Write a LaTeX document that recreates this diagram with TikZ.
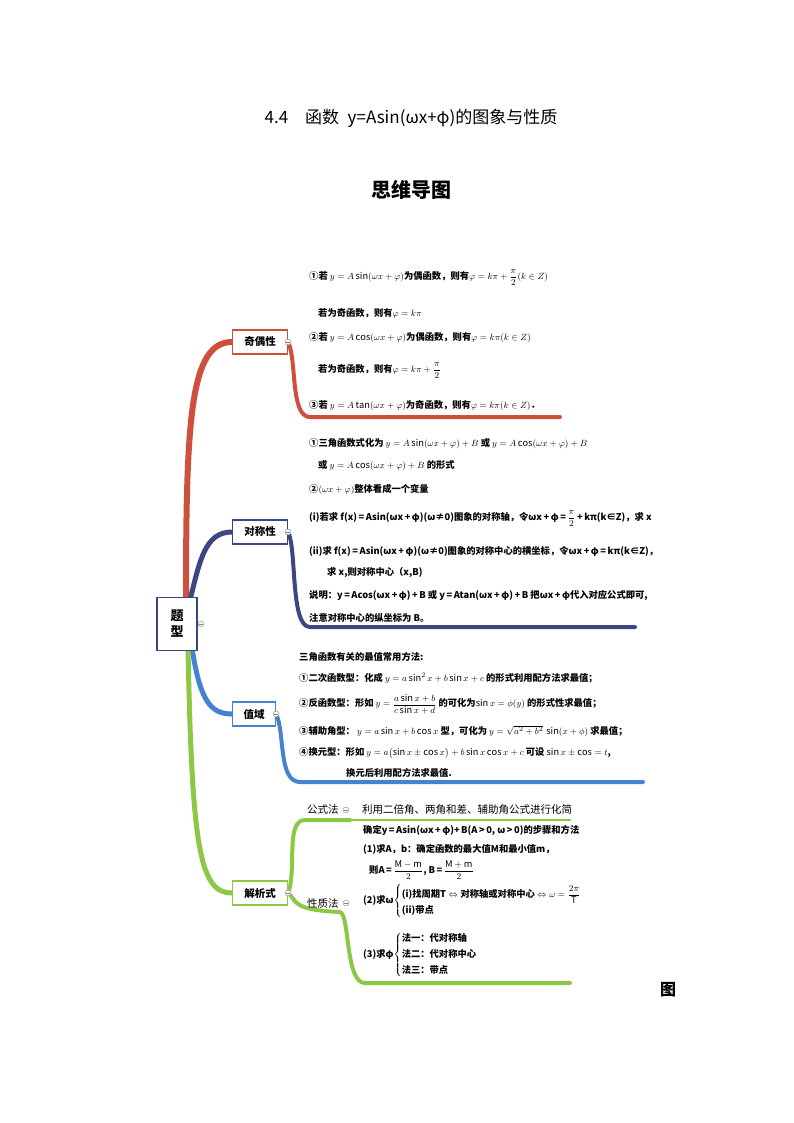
\documentclass[tikz,border=0pt]{standalone}
\usepackage{amsmath}
\usepackage{fontspec}
\setmainfont{Noto Sans CJK SC}
\begin{document}
\begin{tikzpicture}[x=1pt,y=-1pt,
  lbl/.style={draw,line width=1.2pt,fill=white,font=\fontsize{10.5}{12}\selectfont\bfseries,minimum height=24pt,inner sep=3pt},
  tx/.style={anchor=west,font=\fontsize{9.3}{11}\selectfont\bfseries,inner sep=0pt},
  tg/.style={circle,draw=gray,fill=white,inner sep=0pt,minimum size=6pt,path picture={\draw[gray,line width=0.5pt] ([xshift=-1.8pt]path picture bounding box.center) -- ([xshift=1.8pt]path picture bounding box.center);}},
  br/.style={line width=#1,line cap=round}]
\useasboundingbox (0,0) rectangle (794,1123);
\definecolor{cr}{RGB}{204,80,60}\definecolor{cb}{RGB}{60,70,130}
\definecolor{cl}{RGB}{70,130,210}\definecolor{cg}{RGB}{140,200,70}
\node[font=\fontsize{17}{19}\selectfont] (t1) at (411,118) {4.4\quad 函数\; y=Asin(ωx+φ)的图象与性质};
\node[font=\fontsize{20}{22}\selectfont\bfseries] (t2) at (411,190) {思维导图};
\node[font=\fontsize{16}{18}\selectfont\bfseries] (t3) at (668,990) {图};
% branches
\coordinate (r0) at (186,600);\coordinate (b0) at (190,600);
\coordinate (l0) at (192,648);\coordinate (g0) at (188,648);
\coordinate (jw) at (232,342);\coordinate (dw) at (232,532);
\coordinate (zw) at (232,714);\coordinate (gw) at (232,893);
\draw[br=6pt,cr] (r0) .. controls (186,420) and (190,342) .. (jw);
\draw[br=5pt,cb] (b0) .. controls (200,560) and (205,532) .. (dw);
\draw[br=5pt,cl] (l0) .. controls (200,700) and (210,714) .. (zw);
\draw[br=5pt,cg] (g0) .. controls (192,850) and (200,893) .. (gw);
\node[lbl,draw=cr,minimum width=55pt] (jo) at (260,342) {奇偶性};
\node[lbl,draw=cb,minimum width=55pt] (dc) at (260,532) {对称性};
\node[lbl,draw=cl,minimum width=43pt] (zy) at (254,714) {值域};
\node[lbl,draw=cg,minimum width=55pt] (jx) at (260,893) {解析式};
\node[draw=cb,line width=1.5pt,fill=white,minimum width=40pt,minimum height=53pt,align=center,font=\fontsize{13}{16}\selectfont\bfseries] (tx0) at (177,624) {题\\型};
\node[tg] at (201,624) {};
% right trails
\coordinate (je) at (560,417);\coordinate (de) at (635,627);
\coordinate (ze) at (643,782);\coordinate (ge) at (570,983);
\draw[br=4pt,cr] (jo.east) .. controls (297,360) and (290,417) .. (310,417) -- (je);
\draw[br=4pt,cb] (dc.east) .. controls (297,550) and (290,627) .. (310,627) -- (de);
\draw[br=4pt,cl] (zy.east) .. controls (285,732) and (278,782) .. (300,782) -- (ze);
\draw[br=4pt,cg] (jx.east) .. controls (297,870) and (285,820) .. (305,820) -- (350,820);
\draw[br=4pt,cg] (jx.east) .. controls (297,900) and (290,910) .. (340,912);
\draw[br=4pt,cg] (340,912) .. controls (350,915) and (345,983) .. (365,983) -- (ge);
\draw[br=2pt,cg] (350,820) -- (570,820);
\node[tg] at (jo.east) {};\node[tg] at (dc.east) {};\node[tg] at (zy.east) {};\node[tg] at (jx.east) {};
% 奇偶性 text
\node[tx] (a1) at (309,278) {①若 $y=A\sin(\omega x+\varphi)$为偶函数，则有$\varphi=k\pi+\dfrac{\pi}{2}(k\in Z)$};
\node[tx] (a2) at (318,313) {若为奇函数，则有$\varphi=k\pi$};
\node[tx] (a3) at (309,338) {②若 $y=A\cos(\omega x+\varphi)$为偶函数，则有$\varphi=k\pi(k\in Z)$};
\node[tx] (a4) at (318,371) {若为奇函数，则有$\varphi=k\pi+\dfrac{\pi}{2}$};
\node[tx] (a5) at (309,406) {③若 $y=A\tan(\omega x+\varphi)$为奇函数，则有$\varphi=k\pi(k\in Z)$．};
% 对称性 text
\begin{scope}[every node/.append style={font=\fontsize{7.6}{9}\selectfont\bfseries}]
\node[tx] (b1) at (309,444) {①三角函数式化为 $y=A\sin(\omega x+\varphi)+B$ 或 $y=A\cos(\omega x+\varphi)+B$};
\node[tx] (b2) at (318,466) {或 $y=A\cos(\omega x+\varphi)+B$ 的形式};
\node[tx] (b3) at (309,490) {②$(\omega x+\varphi)$整体看成一个变量};
\node[tx] (b4) at (309,519) {(i)若求 f(x)\,=\,Asin(ωx\,+\,φ)(ω≠0)图象的对称轴，令ωx\,+\,φ\,=\,$\dfrac{\pi}{2}$\,+\,kπ(k∈Z)，求 x};
\node[tx] (b5) at (309,551) {(ii)求 f(x)\,=\,Asin(ωx\,+\,φ)(ω≠0)图象的对称中心的横坐标，令ωx\,+\,φ\,=\,kπ(k∈Z)，};
\node[tx] (b6) at (327,573) {求 x,则对称中心（x,B)};
\node[tx] (b7) at (309,596) {说明：y\,=\,Acos(ωx\,+\,φ)\,+\,B 或 y\,=\,Atan(ωx\,+\,φ)\,+\,B 把ωx\,+\,φ代入对应公式即可,};
\node[tx] (b8) at (309,618) {注意对称中心的纵坐标为 B。};
\end{scope}
% 值域 text
\begin{scope}[every node/.append style={font=\fontsize{8.2}{10}\selectfont\bfseries}]
\node[tx] (c1) at (299,657) {三角函数有关的最值常用方法:};
\node[tx] (c2) at (299,678) {①二次函数型：化成 $y=a\sin^2x+b\sin x+c$ 的形式利用配方法求最值；};
\node[tx] (c3) at (299,704) {②反函数型：形如 $y=\dfrac{a\sin x+b}{c\sin x+d}$ 的可化为$\sin x=\phi(y)$ 的形式性求最值；};
\node[tx] (c4) at (299,731) {③辅助角型： $y=a\sin x+b\cos x$ 型，可化为 $y=\sqrt{a^2+b^2}\,\sin(x+\phi)$ 求最值；};
\node[tx] (c5) at (299,753) {④换元型：形如 $y=a\bigl(\sin x\pm\cos x\bigr)+b\sin x\cos x+c$ 可设 $\sin x\pm\cos=t$,};
\node[tx] (c6) at (346,773) {换元后利用配方法求最值.};
\end{scope}
% 解析式 text
\begin{scope}[every node/.append style={font=\fontsize{7.6}{9}\selectfont\bfseries}]
\node[tx] (d1) at (363,830) {确定y\,=\,Asin(ωx\,+\,φ)+\,B(A\,>\,0, ω\,>\,0)的步骤和方法};
\node[tx] (d2) at (363,849) {(1)求A，b：确定函数的最大值M和最小值m，};
\node[tx] (d3) at (369,870) {则A\,=\,$\dfrac{\mathrm{M-m}}{2}$, B\,=\,$\dfrac{\mathrm{M+m}}{2}$};
\node[tx] (d4) at (363,901) {(2)求ω$\left\{\begin{array}{@{}l@{}}\text{(i)找周期T}\Leftrightarrow\text{对称轴或对称中心}\Leftrightarrow\omega=\dfrac{2\pi}{\mathrm T}\\[5pt]\text{(ii)带点}\end{array}\right.$};
\node[tx] (d5) at (363,955) {(3)求φ$\left\{\begin{array}{@{}l@{}}\text{法一：代对称轴}\\[5pt]\text{法二：代对称中心}\\[5pt]\text{法三：带点}\end{array}\right.$};
\end{scope}
\node[tx,font=\fontsize{10.5}{12}\selectfont] (k1) at (307,810) {公式法};
\node[tx,font=\fontsize{10.5}{12}\selectfont] (k2) at (307,903) {性质法};
\node[tg] at (346,810) {};\node[tg] at (346,903) {};
\node[tx,font=\fontsize{10.5}{12}\selectfont] (k3) at (362,810) {利用二倍角、两角和差、辅助角公式进行化简};
\end{tikzpicture}
\end{document}
